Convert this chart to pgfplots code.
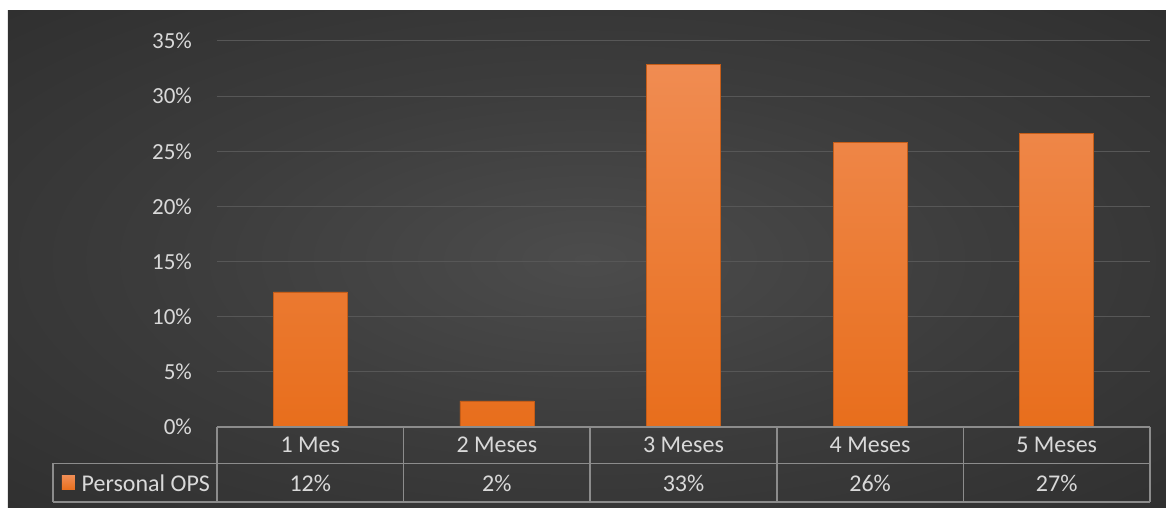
\documentclass[border=0pt]{standalone}
\usepackage{pgfplots}
\pgfplotsset{compat=1.18}
\usepackage{fontspec}
\setmainfont{Carlito}
\definecolor{bgin}{HTML}{4C4C4C}
\definecolor{bgmid}{HTML}{3C3C3C}
\definecolor{bgout}{HTML}{262626}
\definecolor{bartop}{HTML}{F08C52}
\definecolor{barbot}{HTML}{E86E1C}
\definecolor{txt}{HTML}{D9D9D9}
\definecolor{tline}{HTML}{8C8C8C}
\definecolor{gridc}{HTML}{575757}
\pgfdeclareradialshading{bgshade}{\pgfpoint{0bp}{0bp}}{color(0bp)=(bgin); color(18bp)=(bgmid); color(50bp)=(bgout); color(72bp)=(bgout)}
\begin{document}
\begin{tikzpicture}
% background in pixel coordinates
\begin{scope}[x=0.5pt, y=-0.5pt, shift={(-108.5pt,213.5pt)}]
\fill[white] (0,0) rectangle (1166,508);
\path[shading=bgshade] (8,11) rectangle (1166,508);
\end{scope}
\begin{axis}[
  at={(0,0)}, anchor=south west,
  scale only axis,
  width=466.5pt, height=193pt,
  xmin=-0.5, xmax=4.5, ymin=0, ymax=35,
  ytick={0,5,...,35},
  yticklabel={\pgfmathprintnumber{\tick}\%},
  xtick={0,1,2,3,4},
  xticklabels={1 Mes,2 Meses,3 Meses,4 Meses,5 Meses},
  xticklabel style={anchor=center, yshift=-9pt, font=\fontsize{12}{14}\selectfont},
  yticklabel style={xshift=-9pt, font=\fontsize{11.5}{13}\selectfont},
  axis line style={draw=none},
  major tick length=0pt,
  ymajorgrids,
  grid style={gridc, line width=0.5pt},
  tick label style={text=txt},
  /pgf/number format/assume math mode=true,
  clip=false,
]
\addplot[ybar, bar width=37pt, draw=barbot!85!black, line width=0.3pt,
  top color=bartop, bottom color=barbot]
  coordinates {(0,12.25) (1,2.36) (2,32.9) (3,25.8) (4,26.65)};
\node[font=\fontsize{12}{14}\selectfont, text=txt] at (axis cs:0,0) [yshift=-28pt] {12\%};
\node[font=\fontsize{12}{14}\selectfont, text=txt] at (axis cs:1,0) [yshift=-28pt] {2\%};
\node[font=\fontsize{12}{14}\selectfont, text=txt] at (axis cs:2,0) [yshift=-28pt] {33\%};
\node[font=\fontsize{12}{14}\selectfont, text=txt] at (axis cs:3,0) [yshift=-28pt] {26\%};
\node[font=\fontsize{12}{14}\selectfont, text=txt] at (axis cs:4,0) [yshift=-28pt] {27\%};
\end{axis}
% table lines in pixel coordinates
\begin{scope}[x=0.5pt, y=-0.5pt, shift={(-108.5pt,213.5pt)}, line width=0.75pt]
\draw[tline] (217,427) -- (1150,427);
\draw[tline] (53,463.5) -- (1150,463.5);
\draw[tline] (53,502) -- (1150,502);
\draw[tline] (53,463.5) -- (53,502);
\foreach \xx in {217,403.6,590.2,776.8,963.4,1150}{
  \draw[tline] (\xx,427) -- (\xx,502);
}
\path[top color=bartop, bottom color=barbot] (62,476) rectangle (75,490);
\node[anchor=west, font=\fontsize{12}{14}\selectfont, text=txt, inner sep=0pt] at (81,483) {Personal OPS};
\end{scope}
\end{tikzpicture}
\end{document}
